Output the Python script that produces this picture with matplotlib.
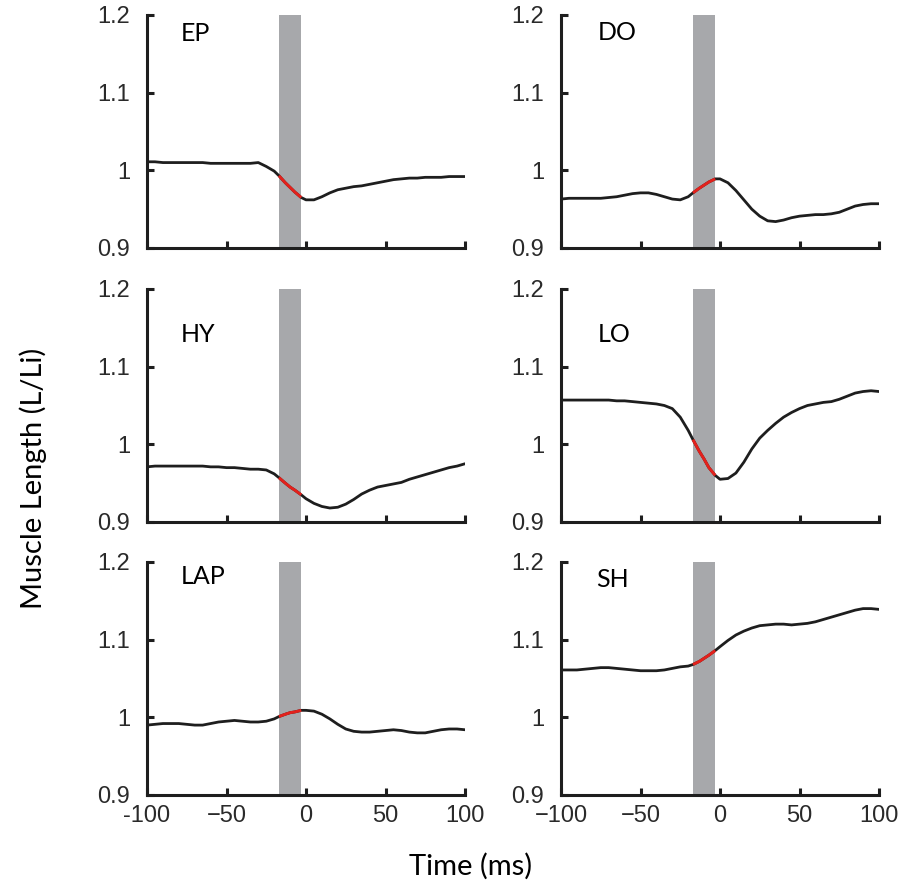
import matplotlib
matplotlib.use("Agg")
import matplotlib.pyplot as plt

# time axis (ms) and the shaded window
time_ms = [-100, -95, -90, -85, -80, -75, -70, -65, -60, -55, -50, -45, -40, -35, -30, -25, -20,
           -17, -13, -10, -7, -3,
           0, 5, 10, 15, 20, 25, 30, 35, 40, 45, 50, 55, 60, 65, 70, 75, 80, 85, 90, 95, 100]
window_start = -17
window_end = -3

muscles = ["EP", "DO", "HY", "LO", "LAP", "SH"]

ep = [1.011, 1.011, 1.010, 1.010, 1.010, 1.010, 1.010, 1.010, 1.009, 1.009, 1.009, 1.009, 1.009, 1.009, 1.010, 1.005, 0.999,
      0.993, 0.984, 0.978, 0.972, 0.965,
      0.962, 0.962, 0.966, 0.971, 0.975, 0.977, 0.979, 0.980, 0.982, 0.984, 0.986, 0.988, 0.989, 0.990, 0.990,
      0.991, 0.991, 0.991, 0.992, 0.992, 0.992]
do = [0.963, 0.964, 0.964, 0.964, 0.964, 0.964, 0.965, 0.966, 0.968, 0.970, 0.971, 0.971, 0.969, 0.966, 0.963, 0.962, 0.966,
      0.971, 0.977, 0.981, 0.985, 0.989,
      0.989, 0.984, 0.974, 0.962, 0.950, 0.941, 0.935, 0.934, 0.936, 0.939, 0.941, 0.942, 0.943, 0.943, 0.944,
      0.946, 0.950, 0.954, 0.956, 0.957, 0.957]
hy = [0.971, 0.972, 0.972, 0.972, 0.972, 0.972, 0.972, 0.972, 0.971, 0.971, 0.970, 0.970, 0.969, 0.968, 0.968, 0.967, 0.962,
      0.957, 0.950, 0.945, 0.941, 0.935,
      0.930, 0.924, 0.920, 0.918, 0.919, 0.923, 0.929, 0.936, 0.941, 0.945, 0.947, 0.949, 0.951, 0.955, 0.958,
      0.961, 0.964, 0.967, 0.970, 0.972, 0.975]
lo = [1.057, 1.057, 1.057, 1.057, 1.057, 1.057, 1.057, 1.056, 1.056, 1.055, 1.054, 1.053, 1.052, 1.050, 1.046, 1.035, 1.018,
      1.006, 0.991, 0.981, 0.970, 0.960,
      0.955, 0.956, 0.963, 0.977, 0.994, 1.008, 1.018, 1.027, 1.035, 1.041, 1.046, 1.050, 1.052, 1.054, 1.055,
      1.058, 1.062, 1.066, 1.068, 1.069, 1.068]
lap = [0.990, 0.991, 0.992, 0.992, 0.992, 0.991, 0.990, 0.990, 0.992, 0.994, 0.995, 0.996, 0.995, 0.994, 0.994, 0.995, 0.998,
       1.001, 1.004, 1.006, 1.007, 1.009,
       1.009, 1.008, 1.004, 0.998, 0.991, 0.985, 0.982, 0.981, 0.981, 0.982, 0.983, 0.984, 0.983, 0.981, 0.980,
       0.980, 0.982, 0.984, 0.985, 0.985, 0.984]
sh = [1.061, 1.061, 1.061, 1.062, 1.063, 1.064, 1.064, 1.063, 1.062, 1.061, 1.060, 1.060, 1.060, 1.061, 1.063, 1.065, 1.066,
      1.068, 1.072, 1.076, 1.080, 1.086,
      1.091, 1.099, 1.106, 1.111, 1.115, 1.118, 1.119, 1.120, 1.120, 1.119, 1.120, 1.121, 1.123, 1.126, 1.129,
      1.132, 1.135, 1.138, 1.140, 1.140, 1.139]

series = [ep, do, hy, lo, lap, sh]

# label anchor (x, y) in data units
label_pos = [(-79, 1.176), (-77, 1.177), (-79, 1.141), (-77, 1.141), (-79, 1.181), (-78, 1.177)]

y_ticks = [0.9, 1.0, 1.1, 1.2]
y_tick_labels = ["0.9", "1", "1.1", "1.2"]
x_ticks = [-100, -50, 0, 50, 100]
x_tick_labels_left = ["-100", "\u221250", "0", "50", "100"]
x_tick_labels_right = ["\u2212100", "\u221250", "0", "50", "100"]

W, H = 915, 882
col_left = [147, 561]
col_width = 318
row_top = [15, 289, 562]
row_height = 233

fig = plt.figure(figsize=(W / 100, H / 100), dpi=100)

for i, (name, values) in enumerate(zip(muscles, series)):
    row, col = divmod(i, 2)
    rect = [col_left[col] / W, 1 - (row_top[row] + row_height) / H, col_width / W, row_height / H]
    ax = fig.add_axes(rect)

    ax.axvspan(window_start, window_end, color="#a7a8ab", lw=0, zorder=1)
    ax.plot(time_ms, values, color="#1e1e1e", lw=2.0, zorder=3,
            solid_capstyle="round", solid_joinstyle="round")

    red_x = [t for t in time_ms if window_start <= t <= window_end]
    red_y = [v for t, v in zip(time_ms, values) if window_start <= t <= window_end]
    ax.plot(red_x, red_y, color="#e3211c", lw=2.1, zorder=4,
            solid_capstyle="butt", solid_joinstyle="round")

    ax.set_xlim(-100, 100)
    ax.set_ylim(0.9, 1.2)

    ax.spines["top"].set_visible(False)
    ax.spines["right"].set_visible(False)
    for s in ["left", "bottom"]:
        ax.spines[s].set_linewidth(2.2)
        ax.spines[s].set_color("#1e1e1e")

    ax.set_yticks(y_ticks)
    ax.set_yticklabels(y_tick_labels)
    ax.set_xticks(x_ticks)
    if row == 2:
        ax.set_xticklabels(x_tick_labels_left if col == 0 else x_tick_labels_right)
    else:
        ax.set_xticklabels([])

    ax.tick_params(direction="in", length=5, width=2.2, color="#1e1e1e",
                   labelsize=17, labelcolor="#2a2a2a")
    ax.tick_params(axis="y", pad=12)
    ax.tick_params(axis="x", pad=7)
    for lab in ax.get_xticklabels() + ax.get_yticklabels():
        lab.set_fontfamily("Liberation Sans")

    ax.text(label_pos[i][0], label_pos[i][1], name, fontsize=18, family="Lato",
            ha="left", va="center", color="black")

fig.text(0.0366, 0.458, "Muscle Length (L/Li)", rotation=90, fontsize=21, family="Lato",
         ha="center", va="center")
fig.text(0.514, 0.018, "Time (ms)", fontsize=21, family="Lato", ha="center", va="center")

fig.savefig("out.png", dpi=100)
